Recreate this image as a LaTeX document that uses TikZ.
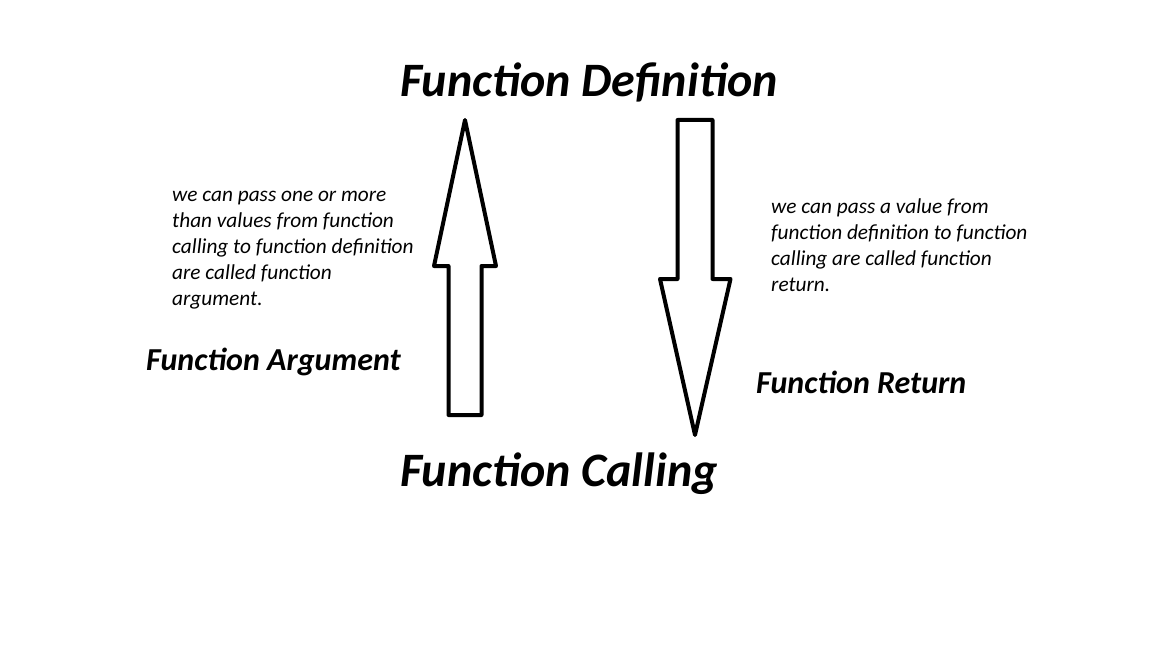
\documentclass[tikz,border=0pt]{standalone}
\usepackage{fontspec}
\setmainfont{Carlito}
\usetikzlibrary{positioning}

\tikzset{
  bigtitle/.style={anchor=base west,inner sep=0pt,font=\fontsize{48}{56}\selectfont\bfseries\itshape},
  sidetitle/.style={anchor=base west,inner sep=0pt,font=\fontsize{32}{38}\selectfont\bfseries\itshape},
  note/.style={anchor=base west,inner sep=0pt,align=left,font=\fontsize{21.3}{25.8}\selectfont\itshape},
  blockarrow/.style={line width=4pt,line join=round}
}

\begin{document}
\begin{tikzpicture}[x=1pt,y=-1pt]
	\useasboundingbox (0,0) rectangle (1151,650);
	\node[bigtitle] (def) at (400,97) {Function Definition};
	\node[bigtitle] (call) at (400,486) {Function Calling};
	% arrow up: argument
	\draw[blockarrow] (465,120)--(496,266)--(481.5,266)--(481.5,415)--(448.5,415)--(448.5,266)--(434,266)--cycle;
	% arrow down: return
	\draw[blockarrow] (677.5,120)--(712.5,120)--(712.5,279)--(730.5,279)--(695,435)--(660,279)--(677.5,279)--cycle;
	% notes: anchored at their last line
	\node[note] (argnote) at (172,305) {we can pass one or more\\than values from function\\calling to function definition\\are called function\\argument.};
	\node[sidetitle] (arg) at (146,370) {Function Argument};
	\node[note] (retnote) at (771,291) {we can pass a value from\\function definition to function\\calling are called function\\return.};
	\node[sidetitle] (ret) at (756,393) {Function Return};
\end{tikzpicture}
\end{document}
